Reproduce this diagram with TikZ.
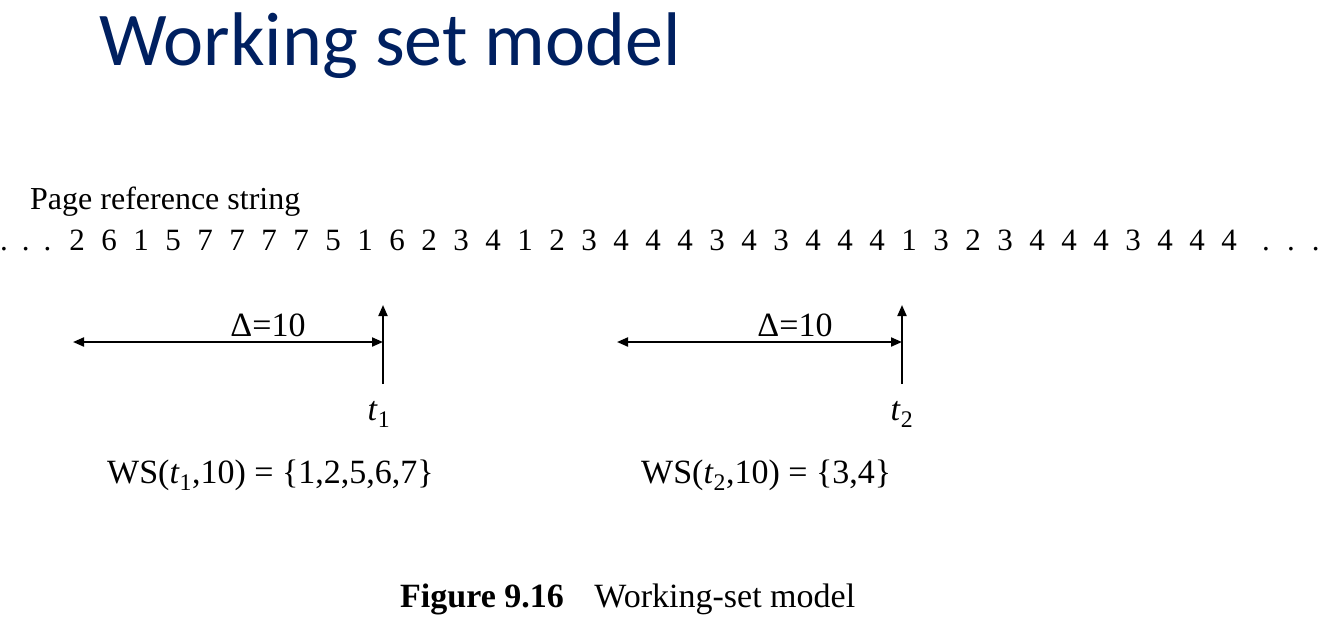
\documentclass[tikz,border=0pt]{standalone}
\usepackage{fontspec}
\setmainfont{Liberation Serif}
\newfontfamily\titlefont{Carlito}
\usetikzlibrary{arrows.meta}
\definecolor{titleblue}{HTML}{002060}
\tikzset{
  txt/.style={inner sep=0pt, font=\fontsize{31}{36}\selectfont},
  big/.style={inner sep=0pt, font=\fontsize{34}{40}\selectfont},
  digit/.style={txt, anchor=base},
  arr/.style={line width=2pt, -{Triangle[length=11pt,width=9pt]}},
  darr/.style={line width=2pt, {Triangle[length=11pt,width=9pt]}-{Triangle[length=11pt,width=9pt]}},
  vline/.style={line width=2pt}
}
\begin{document}
\begin{tikzpicture}[x=1pt,y=-1pt]
\useasboundingbox (0,0) rectangle (1334,630);
\node[inner sep=0pt, anchor=base west, text=titleblue, font=\titlefont\fontsize{76}{90}\selectfont] (title) at (99,65) {Working set model};
\node[txt, font=\fontsize{32}{38}\selectfont, anchor=base west] (prs) at (30,209) {Page reference string};
\node[txt, anchor=base west] (ldots) at (0,250) {.\hspace{0.45em}.\hspace{0.45em}.};
\foreach \d [count=\i from 0] in {2,6,1,5,7,7,7,7,5,1,6,2,3,4,1,2,3,4,4,4,3,4,3,4,4,4,1,3,2,3,4,4,4,3,4,4,4}{
  \node[digit] (d\i) at (77+32*\i,250) {\d};
}
\node[txt, anchor=base west] (rdots) at (1262,250) {.\hspace{0.55em}.\hspace{0.55em}.};
% window 1
\coordinate (t1top) at (383,305);
\coordinate (t1bot) at (383,384);
\coordinate (w1l) at (73,342);
\coordinate (w1r) at (383,342);
\draw[vline, arr] (t1bot) -- (t1top);
\draw[darr] (w1l) -- (w1r);
\node[big, anchor=base] (delta1) at (268,336) {Δ=10};
\node[big, anchor=base] (t1) at (379,420) {\itshape t\/\upshape\textsubscript{1}};
% window 2
\coordinate (t2top) at (902,305);
\coordinate (t2bot) at (902,384);
\coordinate (w2l) at (617,342);
\coordinate (w2r) at (902,342);
\draw[vline, arr] (t2bot) -- (t2top);
\draw[darr] (w2l) -- (w2r);
\node[big, anchor=base] (delta2) at (795,336) {Δ=10};
\node[big, anchor=base] (t2) at (902,420) {\itshape t\/\upshape\textsubscript{2}};
% working sets
\node[big, anchor=base west] (ws1) at (107,483) {WS(\textit{t}\textsubscript{1},10) = \{1,2,5,6,7\}};
\node[big, anchor=base west] (ws2) at (641,483) {WS(\textit{t}\textsubscript{2},10) = \{3,4\}};
% caption
\node[big, anchor=base west] (cap) at (400,607) {\textbf{Figure 9.16}\hspace{0.9em}Working-set model};
\end{tikzpicture}
\end{document}
